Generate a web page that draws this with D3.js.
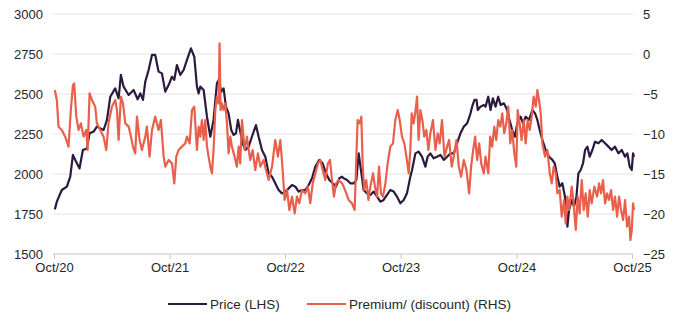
<!DOCTYPE html>
<html>
<head>
<meta charset="utf-8">
<script src="https://cdn.jsdelivr.net/npm/d3@7/dist/d3.min.js"></script>
<style>
  html, body { margin: 0; padding: 0; background: #ffffff; }
  svg { display: block; font-family: "Liberation Sans", Arial, sans-serif; }
</style>
</head>
<body>
<svg id="chart" width="680" height="322"></svg>
<script>
// ---- Data (dates as decimal years) ----
const priceDates = [2020.756,2020.773,2020.816,2020.860,2020.889,2020.912,2020.932,2020.969,2020.998,2021.033,2021.056,2021.091,2021.119,2021.177,2021.206,2021.235,2021.278,2021.307,2021.327,2021.350,2021.394,2021.437,2021.472,2021.495,2021.518,2021.538,2021.567,2021.596,2021.624,2021.653,2021.682,2021.711,2021.740,2021.769,2021.789,2021.812,2021.841,2021.870,2021.899,2021.933,2021.962,2021.985,
2022.000,2022.014,2022.043,2022.072,2022.101,2022.129,2022.158,2022.173,2022.196,2022.216,2022.236,2022.259,2022.282,2022.303,2022.323,2022.340,2022.360,2022.381,2022.404,2022.433,2022.461,2022.496,2022.519,2022.548,2022.577,2022.606,2022.635,2022.663,2022.692,2022.721,2022.750,2022.779,2022.808,2022.837,2022.865,2022.894,2022.923,2022.952,2022.981,2023.010,2023.044,2023.073,2023.102,2023.131,2023.160,2023.189,2023.217,2023.241,
2023.255,2023.284,2023.313,2023.342,2023.365,2023.385,2023.405,2023.428,2023.457,2023.486,2023.515,2023.544,2023.573,2023.601,2023.630,2023.659,2023.688,2023.717,2023.746,2023.775,2023.803,2023.832,2023.847,2023.876,2023.904,2023.933,2023.962,2023.982,2024.005,2024.034,2024.063,2024.092,2024.121,2024.150,2024.179,2024.208,2024.236,2024.265,2024.294,2024.323,2024.352,2024.366,2024.386,2024.404,2024.415,2024.438,2024.467,
2024.482,2024.505,2024.525,2024.545,2024.568,2024.591,2024.612,2024.640,2024.669,2024.689,2024.712,2024.736,2024.756,2024.785,2024.805,2024.828,2024.857,2024.886,2024.909,2024.929,2024.949,2024.972,2025.001,2025.030,2025.059,2025.079,2025.102,2025.122,2025.145,2025.168,2025.189,2025.203,2025.226,2025.246,2025.267,2025.284,2025.304,2025.324,2025.342,2025.362,2025.382,2025.405,2025.428,2025.457,2025.486,2025.515,2025.544,2025.572,2025.601,2025.630,2025.659,2025.688,2025.708,2025.728,2025.746,2025.757,2025.766];
const priceValues = [1779,1827,1900,1921,1983,2119,2088,2035,2150,2160,2254,2265,2296,2275,2337,2483,2535,2473,2619,2546,2494,2525,2467,2504,2463,2577,2650,2744,2744,2640,2629,2515,2556,2608,2588,2681,2619,2650,2713,2785,2733,2546,
2504,2546,2525,2358,2233,2338,2567,2588,2515,2535,2421,2379,2275,2244,2254,2338,2265,2192,2150,2171,2233,2306,2233,2150,2108,2004,1983,1942,1900,1879,1890,1910,1931,1921,1890,1900,1900,1931,1973,2046,2088,2067,2004,1963,1942,1921,1973,1983,
1973,1963,1942,1942,1963,2129,2025,1900,1879,1869,1890,1858,1827,1838,1869,1900,1890,1858,1817,1838,1879,1983,2025,2129,2140,2108,2046,2108,2129,2098,2108,2119,2088,2108,2129,2129,2192,2254,2296,2317,2379,2421,2463,2463,2400,2421,2431,
2421,2483,2400,2473,2421,2483,2431,2442,2400,2338,2275,2233,2317,2358,2317,2358,2338,2400,2379,2338,2275,2213,2150,2108,2088,2067,1983,1921,1942,1858,1671,1775,1838,1796,1858,2004,2025,2067,2150,2171,2108,2150,2202,2192,2213,2192,2171,2150,2171,2129,2150,2108,2129,2046,2025,2129,2108];

const premiumDates = [2020.756,2020.773,2020.788,2020.816,2020.845,2020.874,2020.894,2020.912,2020.923,2020.941,2020.961,2020.981,2021.004,2021.027,2021.039,2021.056,2021.076,2021.105,2021.119,2021.148,2021.177,2021.200,2021.220,2021.249,2021.278,2021.293,2021.307,2021.327,2021.345,2021.365,2021.394,2021.408,2021.431,2021.451,2021.466,2021.489,2021.509,2021.538,2021.552,2021.575,2021.596,2021.624,2021.653,2021.673,2021.697,2021.711,2021.740,2021.769,2021.789,2021.806,2021.826,2021.855,2021.884,2021.899,2021.922,2021.942,2021.962,
2021.985,2022.000,2022.014,2022.028,2022.043,2022.057,2022.072,2022.086,2022.101,2022.115,2022.129,2022.144,2022.158,2022.173,2022.181,2022.190,2022.202,2022.216,2022.231,2022.245,2022.259,2022.274,2022.288,2022.311,2022.331,2022.346,2022.360,2022.375,2022.398,2022.418,2022.433,2022.447,2022.467,2022.490,2022.513,2022.534,2022.562,2022.583,2022.606,2022.635,2022.663,2022.686,2022.707,2022.727,2022.744,2022.765,2022.785,2022.808,2022.831,2022.851,2022.871,2022.894,2022.923,2022.946,2022.966,2022.987,2023.010,2023.033,2023.053,2023.073,2023.096,2023.119,2023.137,2023.154,2023.171,2023.189,2023.212,2023.241,
2023.255,2023.278,2023.298,2023.327,2023.350,2023.365,2023.376,2023.394,2023.408,2023.420,2023.434,2023.451,2023.469,2023.486,2023.509,2023.526,2023.544,2023.561,2023.578,2023.596,2023.616,2023.636,2023.659,2023.682,2023.702,2023.723,2023.740,2023.760,2023.780,2023.798,2023.818,2023.832,2023.844,2023.861,2023.878,2023.890,2023.904,2023.919,2023.936,2023.953,2023.971,2023.988,2024.005,2024.028,2024.049,2024.069,2024.086,2024.106,2024.127,2024.150,2024.167,2024.190,2024.207,2024.231,2024.251,2024.271,2024.294,2024.317,2024.340,2024.357,2024.375,2024.392,2024.409,2024.427,2024.444,2024.467,
2024.482,2024.505,2024.522,2024.539,2024.557,2024.574,2024.591,2024.609,2024.626,2024.643,2024.661,2024.678,2024.695,2024.712,2024.730,2024.747,2024.759,2024.776,2024.793,2024.811,2024.828,2024.845,2024.863,2024.880,2024.897,2024.915,2024.929,2024.943,2024.958,2024.972,2024.995,2025.016,2025.036,2025.053,2025.070,2025.088,2025.102,2025.122,2025.140,2025.160,2025.174,2025.189,2025.203,2025.226,2025.243,2025.261,2025.278,2025.295,2025.313,2025.330,2025.347,2025.365,2025.382,2025.399,2025.422,2025.446,2025.463,2025.480,2025.497,2025.515,2025.532,2025.549,2025.567,2025.584,2025.601,2025.619,2025.636,2025.653,2025.671,2025.688,2025.705,2025.723,2025.734,2025.746,2025.757,2025.766];
const premiumValues = [-4.50,-5.75,-9.08,-9.50,-10.33,-11.58,-7.00,-3.88,-3.67,-7.83,-9.50,-8.67,-10.33,-9.50,-12.00,-4.92,-5.75,-6.58,-8.67,-9.50,-10.33,-12.00,-8.67,-6.58,-5.75,-7.00,-10.75,-5.33,-6.17,-8.67,-9.08,-9.92,-11.58,-12.42,-7.83,-10.75,-12.00,-10.33,-9.08,-12.83,-9.50,-7.83,-9.50,-8.25,-12.83,-14.08,-13.25,-13.67,-16.17,-12.83,-12.00,-11.58,-11.17,-10.33,-11.17,-7.00,-6.58,
-12.00,-9.08,-10.33,-8.25,-10.75,-8.25,-11.58,-12.83,-14.08,-14.92,-12.00,-7.00,-5.33,-6.17,1.33,-7.00,-6.17,-7.00,-6.17,-8.67,-12.42,-10.33,-11.58,-12.83,-14.08,-11.58,-13.67,-8.25,-12.00,-10.33,-12.00,-13.25,-12.00,-14.50,-12.42,-14.08,-13.25,-14.50,-15.75,-14.08,-10.75,-12.83,-10.75,-14.50,-18.25,-17.00,-19.50,-17.83,-19.92,-17.83,-18.67,-17.00,-17.42,-16.58,-18.67,-16.17,-14.92,-13.67,-13.25,-14.50,-15.75,-13.67,-13.25,-15.75,-17.83,-16.17,-15.75,-16.17,
-16.58,-17.42,-18.25,-18.67,-19.50,-12.83,-8.25,-8.67,-7.83,-14.08,-17.00,-15.75,-18.25,-16.58,-14.92,-16.58,-17.83,-14.08,-17.42,-17.83,-16.17,-13.67,-11.58,-11.17,-8.25,-7.00,-8.25,-10.33,-11.17,-12.83,-14.92,-12.00,-7.42,-8.67,-7.00,-5.33,-10.75,-7.00,-8.25,-10.33,-9.50,-12.00,-9.92,-8.25,-12.00,-9.92,-11.17,-8.25,-12.83,-11.58,-10.75,-14.08,-12.83,-10.75,-14.08,-15.33,-13.25,-14.50,-17.42,-14.08,-12.00,-10.33,-13.25,-11.17,-13.67,-14.92,
-12.83,-14.92,-10.33,-11.58,-9.08,-10.75,-8.25,-9.08,-7.42,-9.92,-8.67,-6.58,-11.17,-9.50,-12.42,-14.08,-7.00,-8.67,-10.75,-8.25,-11.17,-8.25,-9.50,-7.83,-5.33,-6.58,-4.50,-5.75,-7.42,-11.17,-12.83,-12.00,-14.92,-16.17,-14.08,-14.92,-17.42,-17.00,-20.33,-18.25,-21.17,-17.83,-19.50,-16.58,-18.67,-22.00,-17.83,-19.92,-15.75,-19.50,-17.42,-20.33,-17.00,-18.67,-16.58,-17.83,-16.17,-17.42,-15.75,-18.67,-17.42,-18.25,-17.00,-19.50,-17.83,-20.33,-17.83,-19.50,-20.75,-18.25,-21.58,-20.33,-23.25,-22.00,-18.67,-19.50];

const leftTicks = [1500,1750,2000,2250,2500,2750,3000];
const rightTicks = [-25,-20,-15,-10,-5,0,5];
const xTickYears = [2020,2021,2022,2023,2024,2025];
const seriesNames = ["Price (LHS)", "Premium/ (discount) (RHS)"];
const seriesColors = ["#2b1a3d", "#e8604c"];

// ---- Helpers ----
function decToDate(t) {
  const y = Math.floor(t);
  const a = new Date(y, 0, 1).getTime();
  const b = new Date(y + 1, 0, 1).getTime();
  return new Date(a + (t - y) * (b - a));
}

const svg = d3.select("#chart");
const margin = {left: 54, right: 48, top: 14, bottom: 68};
const W = 680, H = 322;
const FONT = "Liberation Sans, Arial, sans-serif";

const x = d3.scaleTime()
  .domain([new Date(2020, 9, 1), new Date(2025, 9, 1)])
  .range([margin.left, W - margin.right]);
const yL = d3.scaleLinear().domain([1500, 3000]).range([H - margin.bottom, margin.top]);
const yR = d3.scaleLinear().domain([-25, 5]).range([H - margin.bottom, margin.top]);

// gridlines
svg.append("g")
  .selectAll("line")
  .data(leftTicks.filter(d => d !== 1500))
  .join("line")
  .attr("x1", margin.left - 1).attr("x2", W - margin.right + 1)
  .attr("y1", d => yL(d)).attr("y2", d => yL(d))
  .attr("stroke", "#e3e3e3").attr("stroke-width", 1);

// left axis labels
const axL = svg.append("g")
  .attr("transform", `translate(${margin.left},0)`)
  .call(d3.axisLeft(yL).tickValues(leftTicks).tickSize(0).tickPadding(11).tickFormat(d3.format("d")));
axL.select(".domain").remove();
axL.selectAll("text").attr("font-size", 13).attr("fill", "#262626").attr("font-family", FONT);

// right axis labels
const axR = svg.append("g")
  .attr("transform", `translate(${W - margin.right},0)`)
  .call(d3.axisRight(yR).tickValues(rightTicks).tickSize(0).tickPadding(11).tickFormat(d3.format("d")));
axR.select(".domain").remove();
axR.selectAll("text").attr("font-size", 13).attr("fill", "#262626").attr("font-family", FONT);

// bottom axis
const axB = svg.append("g")
  .attr("transform", `translate(0,${H - margin.bottom})`)
  .call(d3.axisBottom(x)
    .tickValues(xTickYears.map(y => new Date(y, 9, 1)))
    .tickSize(5).tickPadding(4)
    .tickFormat(d => "Oct/" + String(d.getFullYear()).slice(2)));
axB.select(".domain").attr("stroke", "#c8c8c8").attr("d", `M${margin.left - 1},0H${W - margin.right + 1}`);
axB.selectAll(".tick line").attr("stroke", "#c8c8c8");
axB.selectAll("text").attr("font-size", 13).attr("fill", "#262626").attr("font-family", FONT);

// lines
const priceData = priceDates.map((t, i) => ({d: decToDate(t), v: priceValues[i]}));
const premData = premiumDates.map((t, i) => ({d: decToDate(t), v: premiumValues[i]}));

svg.append("path")
  .datum(priceData)
  .attr("fill", "none")
  .attr("stroke", seriesColors[0])
  .attr("stroke-width", 2.2)
  .attr("stroke-linejoin", "round")
  .attr("d", d3.line().x(p => x(p.d)).y(p => yL(p.v)));

svg.append("path")
  .datum(premData)
  .attr("fill", "none")
  .attr("stroke", seriesColors[1])
  .attr("stroke-width", 2.2)
  .attr("stroke-linejoin", "round")
  .attr("d", d3.line().x(p => x(p.d)).y(p => yR(p.v)));

// legend
const legendItems = [
  {name: seriesNames[0], color: seriesColors[0], x0: 168},
  {name: seriesNames[1], color: seriesColors[1], x0: 307}
];
const lg = svg.append("g");
legendItems.forEach(it => {
  lg.append("line")
    .attr("x1", it.x0).attr("x2", it.x0 + 39)
    .attr("y1", 304).attr("y2", 304)
    .attr("stroke", it.color).attr("stroke-width", 2);
  lg.append("text")
    .attr("x", it.x0 + 42).attr("y", 304)
    .attr("dy", "0.35em")
    .attr("font-size", 13.5)
    .attr("font-family", FONT)
    .attr("fill", "#262626")
    .text(it.name);
});
</script>
</body>
</html>
